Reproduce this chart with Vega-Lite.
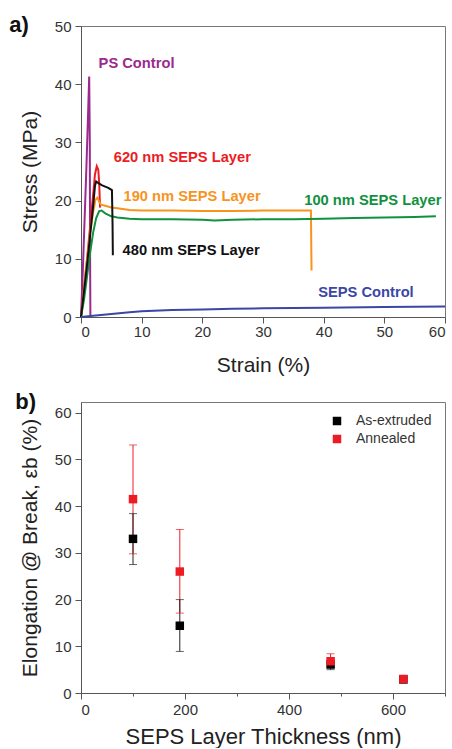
{
  "$schema": "https://vega.github.io/schema/vega-lite/v6.json",
  "padding": {"left": 8, "top": 13, "right": 2, "bottom": 0},
  "spacing": 14,
  "resolve": {"scale": {"color": "independent"}},
  "config": {
    "font": "Liberation Sans",
    "view": {"stroke": "#777", "strokeWidth": 1},
    "axis": {
      "grid": false, "domainColor": "#555", "tickColor": "#555",
      "labelColor": "#333", "labelFontSize": 15, "titleFontSize": 21,
      "titleFontWeight": "normal", "titleColor": "#222", "tickSize": 6
    },
    "title": {"fontSize": 22, "fontWeight": "bold", "color": "#111", "anchor": "start", "frame": "bounds"}
  },
  "datasets": {
    "curves": [
      {"series": "PS Control", "i": 0, "strain": 0, "stress": 0},
      {"series": "PS Control", "i": 1, "strain": 0.3, "stress": 8},
      {"series": "PS Control", "i": 2, "strain": 0.6, "stress": 17},
      {"series": "PS Control", "i": 3, "strain": 0.9, "stress": 26},
      {"series": "PS Control", "i": 4, "strain": 1.2, "stress": 36},
      {"series": "PS Control", "i": 5, "strain": 1.35, "stress": 41.3},
      {"series": "PS Control", "i": 6, "strain": 1.45, "stress": 30},
      {"series": "PS Control", "i": 7, "strain": 1.5, "stress": 10},
      {"series": "PS Control", "i": 8, "strain": 1.55, "stress": 0},
      {"series": "620 nm", "i": 0, "strain": 0, "stress": 0},
      {"series": "620 nm", "i": 1, "strain": 0.5, "stress": 5},
      {"series": "620 nm", "i": 2, "strain": 1.0, "stress": 10},
      {"series": "620 nm", "i": 3, "strain": 1.5, "stress": 15.5},
      {"series": "620 nm", "i": 4, "strain": 2.0, "stress": 21},
      {"series": "620 nm", "i": 5, "strain": 2.3, "stress": 24.5},
      {"series": "620 nm", "i": 6, "strain": 2.6, "stress": 25.9},
      {"series": "620 nm", "i": 7, "strain": 2.85, "stress": 25.3},
      {"series": "620 nm", "i": 8, "strain": 3.0, "stress": 23},
      {"series": "620 nm", "i": 9, "strain": 3.1, "stress": 20},
      {"series": "620 nm", "i": 10, "strain": 3.15, "stress": 18.8},
      {"series": "190 nm", "i": 0, "strain": 0, "stress": 0},
      {"series": "190 nm", "i": 1, "strain": 0.5, "stress": 5},
      {"series": "190 nm", "i": 2, "strain": 1.0, "stress": 10},
      {"series": "190 nm", "i": 3, "strain": 1.5, "stress": 14.5},
      {"series": "190 nm", "i": 4, "strain": 2.0, "stress": 18},
      {"series": "190 nm", "i": 5, "strain": 2.4, "stress": 20.2},
      {"series": "190 nm", "i": 6, "strain": 2.7, "stress": 20.5},
      {"series": "190 nm", "i": 7, "strain": 3.0, "stress": 19.8},
      {"series": "190 nm", "i": 8, "strain": 3.3, "stress": 19.3},
      {"series": "190 nm", "i": 9, "strain": 4, "stress": 19.1},
      {"series": "190 nm", "i": 10, "strain": 5, "stress": 18.8},
      {"series": "190 nm", "i": 11, "strain": 6, "stress": 18.7},
      {"series": "190 nm", "i": 12, "strain": 8, "stress": 18.4},
      {"series": "190 nm", "i": 13, "strain": 10, "stress": 18.3},
      {"series": "190 nm", "i": 14, "strain": 15, "stress": 18.3},
      {"series": "190 nm", "i": 15, "strain": 20, "stress": 18.2},
      {"series": "190 nm", "i": 16, "strain": 25, "stress": 18.2},
      {"series": "190 nm", "i": 17, "strain": 30, "stress": 18.3},
      {"series": "190 nm", "i": 18, "strain": 35, "stress": 18.3},
      {"series": "190 nm", "i": 19, "strain": 37.9, "stress": 18.3},
      {"series": "190 nm", "i": 20, "strain": 37.95, "stress": 13},
      {"series": "190 nm", "i": 21, "strain": 38.0, "stress": 8.0},
      {"series": "100 nm", "i": 0, "strain": 0, "stress": 0},
      {"series": "100 nm", "i": 1, "strain": 0.5, "stress": 3},
      {"series": "100 nm", "i": 2, "strain": 1.0, "stress": 7},
      {"series": "100 nm", "i": 3, "strain": 1.5, "stress": 11},
      {"series": "100 nm", "i": 4, "strain": 2.0, "stress": 14.5},
      {"series": "100 nm", "i": 5, "strain": 2.5, "stress": 17},
      {"series": "100 nm", "i": 6, "strain": 3.0, "stress": 18.2},
      {"series": "100 nm", "i": 7, "strain": 3.4, "stress": 18.3},
      {"series": "100 nm", "i": 8, "strain": 4, "stress": 17.8},
      {"series": "100 nm", "i": 9, "strain": 5, "stress": 17.3},
      {"series": "100 nm", "i": 10, "strain": 6, "stress": 17.1},
      {"series": "100 nm", "i": 11, "strain": 8, "stress": 16.9},
      {"series": "100 nm", "i": 12, "strain": 10, "stress": 16.8},
      {"series": "100 nm", "i": 13, "strain": 15, "stress": 16.8},
      {"series": "100 nm", "i": 14, "strain": 20, "stress": 16.7},
      {"series": "100 nm", "i": 15, "strain": 22, "stress": 16.6},
      {"series": "100 nm", "i": 16, "strain": 25, "stress": 16.7},
      {"series": "100 nm", "i": 17, "strain": 30, "stress": 16.8},
      {"series": "100 nm", "i": 18, "strain": 35, "stress": 16.8},
      {"series": "100 nm", "i": 19, "strain": 40, "stress": 16.9},
      {"series": "100 nm", "i": 20, "strain": 45, "stress": 17.0},
      {"series": "100 nm", "i": 21, "strain": 50, "stress": 17.1},
      {"series": "100 nm", "i": 22, "strain": 55, "stress": 17.2},
      {"series": "100 nm", "i": 23, "strain": 58.5, "stress": 17.3},
      {"series": "480 nm", "i": 0, "strain": 0, "stress": 0},
      {"series": "480 nm", "i": 1, "strain": 0.5, "stress": 4.5},
      {"series": "480 nm", "i": 2, "strain": 1.0, "stress": 9},
      {"series": "480 nm", "i": 3, "strain": 1.5, "stress": 14},
      {"series": "480 nm", "i": 4, "strain": 2.0, "stress": 19},
      {"series": "480 nm", "i": 5, "strain": 2.3, "stress": 22.5},
      {"series": "480 nm", "i": 6, "strain": 2.5, "stress": 23.3},
      {"series": "480 nm", "i": 7, "strain": 3.0, "stress": 22.9},
      {"series": "480 nm", "i": 8, "strain": 3.5, "stress": 22.6},
      {"series": "480 nm", "i": 9, "strain": 4.0, "stress": 22.4},
      {"series": "480 nm", "i": 10, "strain": 4.5, "stress": 22.2},
      {"series": "480 nm", "i": 11, "strain": 5.1, "stress": 21.8},
      {"series": "480 nm", "i": 12, "strain": 5.2, "stress": 16},
      {"series": "480 nm", "i": 13, "strain": 5.25, "stress": 10.6},
      {"series": "SEPS Control", "i": 0, "strain": 0, "stress": 0},
      {"series": "SEPS Control", "i": 1, "strain": 2, "stress": 0.2},
      {"series": "SEPS Control", "i": 2, "strain": 5, "stress": 0.5},
      {"series": "SEPS Control", "i": 3, "strain": 8, "stress": 0.8},
      {"series": "SEPS Control", "i": 4, "strain": 10, "stress": 1.0},
      {"series": "SEPS Control", "i": 5, "strain": 15, "stress": 1.2},
      {"series": "SEPS Control", "i": 6, "strain": 20, "stress": 1.3},
      {"series": "SEPS Control", "i": 7, "strain": 25, "stress": 1.4},
      {"series": "SEPS Control", "i": 8, "strain": 30, "stress": 1.5},
      {"series": "SEPS Control", "i": 9, "strain": 40, "stress": 1.6},
      {"series": "SEPS Control", "i": 10, "strain": 50, "stress": 1.7},
      {"series": "SEPS Control", "i": 11, "strain": 60, "stress": 1.8}
    ],
    "labels": [
      {"series": "PS Control", "label": "PS Control", "strain": 2.9, "stress": 43.4},
      {"series": "620 nm", "label": "620 nm SEPS Layer", "strain": 5.4, "stress": 27.4},
      {"series": "190 nm", "label": "190 nm SEPS Layer", "strain": 7.0, "stress": 20.6},
      {"series": "100 nm", "label": "100 nm SEPS Layer", "strain": 36.8, "stress": 19.9},
      {"series": "480 nm", "label": "480 nm SEPS Layer", "strain": 6.85, "stress": 11.4},
      {"series": "SEPS Control", "label": "SEPS Control", "strain": 39.1, "stress": 4.1}
    ],
    "bars": [
      {"group": "Annealed", "thickness": 100, "lo": 29.8, "hi": 53.1},
      {"group": "Annealed", "thickness": 190, "lo": 17.1, "hi": 35.0},
      {"group": "Annealed", "thickness": 480, "lo": 5.5, "hi": 8.4},
      {"group": "As-extruded", "thickness": 100, "lo": 27.5, "hi": 38.4},
      {"group": "As-extruded", "thickness": 190, "lo": 8.9, "hi": 20.0},
      {"group": "As-extruded", "thickness": 480, "lo": 5.0, "hi": 7.0}
    ],
    "pts": [
      {"group": "As-extruded", "thickness": 100, "elong": 33.0},
      {"group": "As-extruded", "thickness": 190, "elong": 14.4},
      {"group": "As-extruded", "thickness": 480, "elong": 6.1},
      {"group": "As-extruded", "thickness": 620, "elong": 2.9},
      {"group": "Annealed", "thickness": 100, "elong": 41.5},
      {"group": "Annealed", "thickness": 190, "elong": 26.0},
      {"group": "Annealed", "thickness": 480, "elong": 6.8},
      {"group": "Annealed", "thickness": 620, "elong": 3.0}
    ]
  },
  "vconcat": [
    {
      "width": 364, "height": 291,
      "title": {"text": "a)", "dx": -10, "dy": 22},
      "layer": [
        {
          "data": {"name": "curves"},
          "mark": {"type": "line", "strokeWidth": 2},
          "encoding": {
            "x": {"field": "strain", "type": "quantitative", "scale": {"domain": [0, 60], "nice": false},
                  "axis": {"title": "Strain (%)", "values": [0,5,10,15,20,25,30,35,40,45,50,55,60], "labelExpr": "datum.value % 10 === 0 ? datum.label : ''",
                           "tickSize": {"condition": {"test": "datum.value % 10 === 0", "value": 6}, "value": 3}, "labelPadding": 1, "titlePadding": 15}},
            "y": {"field": "stress", "type": "quantitative", "scale": {"domain": [0, 50], "nice": false},
                  "axis": {"title": "Stress (MPa)", "values": [0,5,10,15,20,25,30,35,40,45,50], "labelExpr": "datum.value % 10 === 0 ? datum.label : ''",
                           "tickSize": {"condition": {"test": "datum.value % 10 === 0", "value": 6}, "value": 3}, "labelPadding": 4, "titlePadding": 14}},
            "color": {"field": "series", "type": "nominal", "legend": null,
                      "scale": {"domain": ["PS Control", "620 nm", "190 nm", "100 nm", "480 nm", "SEPS Control"],
                                "range": ["#9a2a8e", "#ed1c24", "#f7941d", "#11913e", "#111111", "#3a47a6"]}},
            "detail": {"field": "series"},
            "order": {"field": "i", "type": "quantitative"}
          }
        },
        {
          "data": {"name": "labels"},
          "mark": {"type": "text", "align": "left", "baseline": "middle", "fontSize": 14.7, "fontWeight": "bold"},
          "encoding": {
            "x": {"field": "strain", "type": "quantitative"},
            "y": {"field": "stress", "type": "quantitative"},
            "text": {"field": "label"},
            "color": {"field": "series", "type": "nominal", "legend": null}
          }
        }
      ]
    },
    {
      "width": 364, "height": 291,
      "title": {"text": "b)", "dx": -4, "dy": 16},
      "layer": [
        {
          "data": {"name": "bars"},
          "mark": {"type": "rule", "strokeWidth": 1},
          "encoding": {
            "x": {"field": "thickness", "type": "quantitative", "scale": {"domain": [0, 700], "nice": false},
                  "axis": {"title": "SEPS Layer Thickness (nm)", "titleFontSize": 22, "values": [0,100,200,300,400,500,600,700], "labelExpr": "datum.value % 200 === 0 ? datum.label : ''",
                           "tickSize": {"condition": {"test": "datum.value % 200 === 0", "value": 6}, "value": 3}, "labelPadding": 3, "titlePadding": 9}},
            "y": {"field": "lo", "type": "quantitative", "scale": {"domain": [0, 62.3], "nice": false},
                  "axis": {"title": "Elongation @ Break, εb (%)", "values": [0,5,10,15,20,25,30,35,40,45,50,55,60], "labelExpr": "datum.value % 10 === 0 ? datum.label : ''",
                           "tickSize": {"condition": {"test": "datum.value % 10 === 0", "value": 6}, "value": 3}, "labelPadding": 4, "titlePadding": 14}},
            "y2": {"field": "hi"},
            "color": {"field": "group", "type": "nominal",
                      "scale": {"domain": ["As-extruded", "Annealed"], "range": ["#222222", "#ed1c24"]},
                      "legend": null}
          }
        },
        {
          "data": {"name": "bars"},
          "mark": {"type": "tick", "orient": "horizontal", "size": 8, "thickness": 1},
          "encoding": {
            "x": {"field": "thickness", "type": "quantitative"},
            "y": {"field": "lo", "type": "quantitative"},
            "color": {"field": "group", "type": "nominal", "legend": null}
          }
        },
        {
          "data": {"name": "bars"},
          "mark": {"type": "tick", "orient": "horizontal", "size": 8, "thickness": 1},
          "encoding": {
            "x": {"field": "thickness", "type": "quantitative"},
            "y": {"field": "hi", "type": "quantitative"},
            "color": {"field": "group", "type": "nominal", "legend": null}
          }
        },
        {
          "data": {"name": "pts"},
          "mark": {"type": "point", "shape": "square", "filled": true, "size": 72, "opacity": 1},
          "encoding": {
            "x": {"field": "thickness", "type": "quantitative"},
            "y": {"field": "elong", "type": "quantitative"},
            "fill": {"field": "group", "type": "nominal",
                     "scale": {"domain": ["As-extruded", "Annealed"], "range": ["#000000", "#ed1c24"]},
                     "legend": {"title": null, "orient": "none", "legendX": 249, "legendY": 388, "symbolType": "square", "symbolSize": 72,
                                "labelFontSize": 14, "labelColor": "#333", "labelOffset": 12, "rowPadding": 4, "symbolStrokeWidth": 0}}
          }
        }
      ]
    }
  ]
}
